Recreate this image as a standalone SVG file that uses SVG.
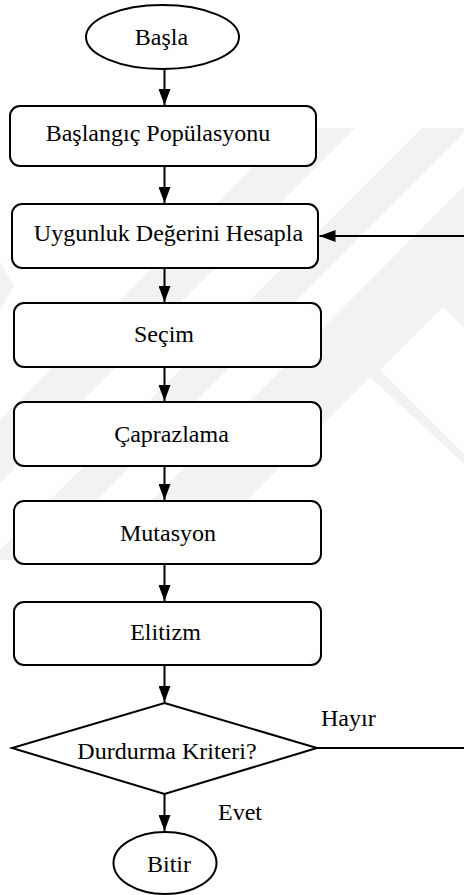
<svg xmlns="http://www.w3.org/2000/svg" width="464" height="895" viewBox="0 0 464 895">
  <style>
    .shape { fill: #ffffff; stroke: #000000; stroke-width: 2; }
    .lbl { font-family: "Liberation Serif", "Times New Roman", serif; font-size: 24px; fill: #000000; text-anchor: middle; }
    .side { font-family: "Liberation Serif", "Times New Roman", serif; font-size: 24px; fill: #000000; }
    .conn { fill: none; stroke: #000000; stroke-width: 2; }
    .wm { fill: #f2f2f2; }
  </style>
  <defs>
    <marker id="arrow" viewBox="0 0 16 12" refX="16" refY="6" markerWidth="16" markerHeight="12" markerUnits="userSpaceOnUse" orient="auto">
      <path d="M0,0 L16,6 L0,12 z" fill="#000000"/>
    </marker>
    <clipPath id="wmclip">
      <rect x="0" y="128" width="464" height="432"/>
    </clipPath>
  </defs>
  <rect x="0" y="0" width="464" height="895" fill="#ffffff"/>
  <g id="watermark" clip-path="url(#wmclip)">
    <polygon class="wm" points="292,128 355,128 0,483 0,420"/>
    <polygon class="wm" points="422,128 469,128 0,597 0,550"/>
    <polygon class="wm" points="464,186 464,286 380,370 464,454 464,464 370,377 187,560 92,560"/>
    <polygon class="wm" points="443,307 464,286 464,328"/>
    <polygon class="wm" points="0,262 14,286 0,310"/>
  </g>
  <g id="connectors">
    <line class="conn" x1="164.5" y1="69" x2="164.5" y2="105" marker-end="url(#arrow)"/>
    <line class="conn" x1="164.5" y1="166" x2="164.5" y2="203" marker-end="url(#arrow)"/>
    <line class="conn" x1="164.5" y1="268" x2="164.5" y2="302" marker-end="url(#arrow)"/>
    <line class="conn" x1="164.5" y1="367" x2="164.5" y2="401" marker-end="url(#arrow)"/>
    <line class="conn" x1="164.5" y1="466" x2="164.5" y2="500" marker-end="url(#arrow)"/>
    <line class="conn" x1="164.5" y1="564" x2="164.5" y2="601" marker-end="url(#arrow)"/>
    <line class="conn" x1="164.5" y1="665" x2="164.5" y2="702" marker-end="url(#arrow)"/>
    <line class="conn" x1="164.5" y1="794" x2="164.5" y2="831" marker-end="url(#arrow)"/>
    <line class="conn" x1="465" y1="236" x2="319.5" y2="236" marker-end="url(#arrow)"/>
    <line class="conn" x1="317" y1="748" x2="465" y2="748"/>
  </g>
  <g id="start">
    <ellipse class="shape" cx="162.5" cy="37" rx="76.5" ry="32"/>
    <text class="lbl" x="161.5" y="45">Başla</text>
  </g>
  <g id="init-population">
    <rect class="shape" x="10" y="106" width="306" height="60" rx="10"/>
    <text class="lbl" x="158" y="141">Başlangıç Popülasyonu</text>
  </g>
  <g id="fitness">
    <rect class="shape" x="12" y="204" width="306" height="64" rx="10"/>
    <text class="lbl" x="168.5" y="241">Uygunluk Değerini Hesapla</text>
  </g>
  <g id="selection">
    <rect class="shape" x="14" y="303" width="307" height="64" rx="10"/>
    <text class="lbl" x="164" y="342">Seçim</text>
  </g>
  <g id="crossover">
    <rect class="shape" x="14" y="402" width="307" height="64" rx="10"/>
    <text class="lbl" x="171.5" y="442">Çaprazlama</text>
  </g>
  <g id="mutation">
    <rect class="shape" x="14" y="501" width="307" height="63" rx="10"/>
    <text class="lbl" x="168" y="541">Mutasyon</text>
  </g>
  <g id="elitism">
    <rect class="shape" x="14" y="602" width="307" height="63" rx="10"/>
    <text class="lbl" x="165.5" y="640">Elitizm</text>
  </g>
  <g id="stop-criterion">
    <polygon class="shape" points="164.5,703 317,748 164.5,794 12,748"/>
    <text class="lbl" x="167" y="759">Durdurma Kriteri?</text>
  </g>
  <g id="end">
    <ellipse class="shape" cx="165" cy="863" rx="51.5" ry="31"/>
    <text class="lbl" x="169" y="872">Bitir</text>
  </g>
  <g id="edge-labels">
    <text class="side" x="321" y="726">Hayır</text>
    <text class="side" x="218" y="820">Evet</text>
  </g>
</svg>
